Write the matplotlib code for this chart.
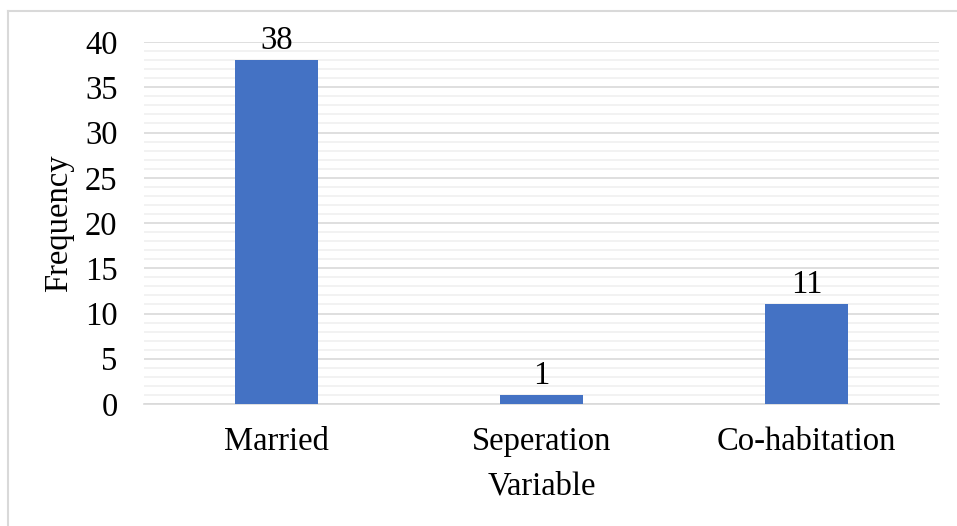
#------------------------------------------------------------------------------------------------------------------
#   Frequency bar chart
#------------------------------------------------------------------------------------------------------------------

import numpy as np
import matplotlib.pyplot as plt
from matplotlib.lines import Line2D
from matplotlib.ticker import MultipleLocator

#------------------------------------------------------------------------------------------------------------------
#   Data
#------------------------------------------------------------------------------------------------------------------
categories = ['Married', 'Seperation', 'Co-habitation']
frequency = [38, 1, 11]

#------------------------------------------------------------------------------------------------------------------
#   Figure
#------------------------------------------------------------------------------------------------------------------
plt.rcParams['font.family'] = ['Liberation Serif', 'DejaVu Serif']
fs = 23.5

fig = plt.figure(figsize=(9.57, 5.26), dpi=100)
ax = fig.add_axes([144/957, 1 - 404/526, (939 - 144)/957, (404 - 42)/526])

x = np.arange(len(categories))
bars = ax.bar(x, frequency, width=0.313, color='#4472C4', zorder=3)
ax.bar_label(bars, padding=3, fontsize=fs)

ax.set_xlim(-0.5, len(categories) - 0.5)
ax.set_ylim(0, 40)
ax.yaxis.set_major_locator(MultipleLocator(5))
ax.yaxis.set_minor_locator(MultipleLocator(1))

ax.grid(which='major', axis='y', color='#d9d9d9', linewidth=1.2, zorder=0)
ax.grid(which='minor', axis='y', color='#f0f0f0', linewidth=1.2, zorder=0)

for side in ['top', 'right', 'left']:
    ax.spines[side].set_visible(False)
ax.spines['bottom'].set_color('#d9d9d9')
ax.spines['bottom'].set_linewidth(1.2)

ax.set_xticks(x)
ax.set_xticklabels(categories)
ax.tick_params(axis='both', which='both', length=0, labelsize=fs)
ax.tick_params(axis='x', pad=16)
ax.tick_params(axis='y', pad=19)

ax.set_xlabel('Variable', fontsize=fs, labelpad=10)
ax.set_ylabel('Frequency', fontsize=fs, labelpad=8)

# chart border (only top and left visible in the crop)
fig.add_artist(Line2D([8/957, 1], [1 - 10.5/526, 1 - 10.5/526], color='#d9d9d9', linewidth=1.5, transform=fig.transFigure))
fig.add_artist(Line2D([8/957, 8/957], [0, 1 - 10.5/526], color='#d9d9d9', linewidth=1.5, transform=fig.transFigure))

fig.savefig('out.png', dpi=100)
